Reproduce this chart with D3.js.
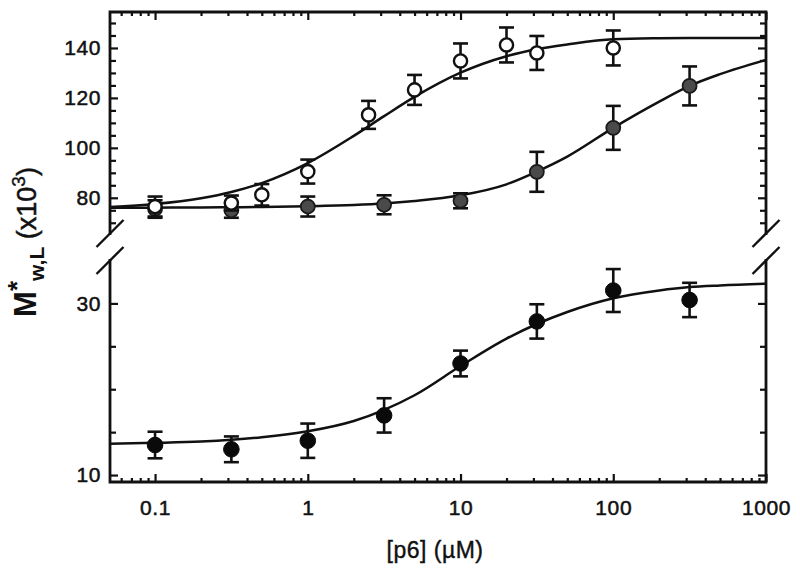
<!DOCTYPE html>
<html>
<head>
<meta charset="utf-8">
<script src="https://cdn.jsdelivr.net/npm/d3@7"></script>
<style>
  html, body { margin: 0; padding: 0; background: #fff; }
  svg { display: block; }
  text { font-family: "Liberation Sans", Arial, sans-serif; fill: #111; }
</style>
</head>
<body>
<svg id="chart" width="800" height="578"></svg>
<script>
// ---------- data ----------
const xTickValues = [0.1, 1, 10, 100, 1000];
const xTickLabels = ["0.1", "1", "10", "100", "1000"];
const upperTickValues = [80, 100, 120, 140];
const upperMinorTicks = [70, 75, 85, 90, 95, 105, 110, 115, 125, 130, 135, 145, 150];
const lowerTickValues = [10, 30];
const lowerMinorTicks = [15, 20, 25];

const concOpen = [0.1, 0.316, 0.5, 1, 2.5, 5, 10, 20, 31.6, 100];
const openValues = [76.5, 77.9, 81.2, 90.5, 113.2, 123.2, 134.8, 141.2, 138, 140];
const openErrors = [4, 3, 4.3, 4.8, 5.6, 6, 7, 7, 6.8, 7];

const concGray = [0.1, 0.316, 1, 3.16, 10, 31.6, 100, 316];
const grayValues = [75.5, 75, 76.5, 77.2, 78.8, 90.4, 108, 124.8];
const grayErrors = [3.5, 3, 4, 3.8, 3, 8, 8.8, 7.8];

const concBlack = [0.1, 0.316, 1, 3.16, 10, 31.6, 100, 316];
const blackValues = [13.5, 13.0, 14.0, 16.95, 23.0, 27.9, 31.5, 30.4];
const blackErrors = [1.55, 1.5, 2, 2, 1.5, 2, 2.5, 2];

// fitted curves
const fitConc = [0.05, 0.1, 0.2, 0.316, 0.5, 1, 2, 3.16, 5, 10, 20, 31.6, 50, 100, 200, 316, 500, 1000];
const openFit = [76.3, 77.5, 79.8, 82.3, 85.9, 93.9, 104.8, 112.7, 120.4, 130.1, 136.7, 139.5, 141.4, 143.5, 143.9, 144, 144, 144];
const grayFit = [76.0, 76.05, 76.1, 76.2, 76.3, 76.6, 77.1, 77.7, 78.7, 81.0, 85.4, 90.5, 96.5, 108, 118.5, 124.8, 129.5, 135.2];
const blackFit = [13.65, 13.75, 13.9, 14.1, 14.4, 15.1, 16.3, 17.6, 19.3, 22.7, 25.9, 27.6, 29.0, 30.6, 31.5, 31.9, 32.1, 32.3];

// ---------- layout ----------
const L = 110, R = 766, T = 12, B = 482;
const upperBottom = 233.5, lowerTop = 260.5;
const svg = d3.select("#chart");

const x = d3.scaleLog().domain([0.0507, 1000]).range([L, R]);
const yU = d3.scaleLinear().domain([65.7, 154.4]).range([upperBottom, T]);
const yL = d3.scaleLinear().domain([9.19, 35]).range([B, lowerTop]);

const defs = svg.append("defs");
defs.append("clipPath").attr("id", "clipU").append("rect")
  .attr("x", L).attr("y", T).attr("width", R - L).attr("height", upperBottom - T);
defs.append("clipPath").attr("id", "clipL").append("rect")
  .attr("x", L).attr("y", lowerTop).attr("width", R - L).attr("height", B - lowerTop);

const frameW = 2.8;

// ---------- ticks ----------
const xMinor = [];
[-2, -1, 0, 1, 2].forEach(e => { for (let m = 2; m <= 9; m++) { const v = m * Math.pow(10, e); if (v >= 0.0507 && v <= 1000) xMinor.push(v); } });

const gB = svg.append("g").attr("transform", `translate(0,${B})`);
gB.call(d3.axisBottom(x).tickValues(xTickValues).tickSize(-8).tickPadding(18)
  .tickFormat((d, i) => xTickLabels[i]));
gB.append("g").call(d3.axisBottom(x).tickValues(xMinor).tickSize(-4).tickFormat(""));
const gT = svg.append("g").attr("transform", `translate(0,${T})`);
gT.call(d3.axisTop(x).tickValues(xTickValues).tickSize(-8).tickFormat(""));
gT.append("g").call(d3.axisTop(x).tickValues(xMinor).tickSize(-4).tickFormat(""));

const gLU = svg.append("g").attr("transform", `translate(${L},0)`);
gLU.call(d3.axisLeft(yU).tickValues(upperTickValues).tickSize(-8).tickPadding(9));
gLU.append("g").call(d3.axisLeft(yU).tickValues(upperMinorTicks).tickSize(-6).tickFormat(""));
const gLL = svg.append("g").attr("transform", `translate(${L},0)`);
gLL.call(d3.axisLeft(yL).tickValues(lowerTickValues).tickSize(-8).tickPadding(9));
gLL.append("g").call(d3.axisLeft(yL).tickValues(lowerMinorTicks).tickSize(-6).tickFormat(""));
const gRU = svg.append("g").attr("transform", `translate(${R},0)`);
gRU.call(d3.axisRight(yU).tickValues(upperTickValues).tickSize(-8).tickFormat(""));
gRU.append("g").call(d3.axisRight(yU).tickValues(upperMinorTicks).tickSize(-6).tickFormat(""));
const gRL = svg.append("g").attr("transform", `translate(${R},0)`);
gRL.call(d3.axisRight(yL).tickValues(lowerTickValues).tickSize(-8).tickFormat(""));
gRL.append("g").call(d3.axisRight(yL).tickValues(lowerMinorTicks).tickSize(-6).tickFormat(""));

svg.selectAll(".domain").remove();
svg.selectAll(".tick line").attr("stroke", "#111").attr("stroke-width", 2.2);
svg.selectAll(".tick text").attr("font-size", 21).attr("fill", "#111")
  .attr("stroke", "#111").attr("stroke-width", 0.5)
  .style("letter-spacing", "0.6px");

// ---------- frame ----------
const frame = svg.append("g").attr("stroke", "#111").attr("stroke-width", frameW).attr("fill", "none")
  .attr("stroke-linecap", "square");
frame.append("path").attr("d", `M${L},${upperBottom}V${T}H${R}V${upperBottom}`);
frame.append("path").attr("d", `M${L},${lowerTop}V${B}H${R}V${lowerTop}`);
const brk = svg.append("g").attr("stroke", "#111").attr("stroke-width", 2.4).attr("fill", "none");
[L, R].forEach(cx => {
  [upperBottom, lowerTop].forEach(cy => {
    brk.append("line").attr("x1", cx - 13.5).attr("y1", cy + 13.5).attr("x2", cx + 13.5).attr("y2", cy - 13.5);
  });
});

// ---------- curves ----------
const lineU = d3.line().x((d, i) => x(fitConc[i])).y(d => yU(d)).curve(d3.curveMonotoneX);
const lineL = d3.line().x((d, i) => x(fitConc[i])).y(d => yL(d)).curve(d3.curveMonotoneX);
const curvesU = svg.append("g").attr("clip-path", "url(#clipU)");
curvesU.append("path").attr("d", lineU(grayFit)).attr("fill", "none").attr("stroke", "#111").attr("stroke-width", 2.5);
curvesU.append("path").attr("d", lineU(openFit)).attr("fill", "none").attr("stroke", "#111").attr("stroke-width", 2.5);
svg.append("g").attr("clip-path", "url(#clipL)")
  .append("path").attr("d", lineL(blackFit)).attr("fill", "none").attr("stroke", "#111").attr("stroke-width", 2.5);

// ---------- points with error bars ----------
function drawSeries(conc, vals, errs, yScale, style) {
  const g = svg.append("g");
  const cap = 7.5;
  conc.forEach((c, i) => {
    const cx = x(c), y0 = yScale(vals[i] - errs[i]), y1 = yScale(vals[i] + errs[i]);
    const eg = g.append("g").attr("stroke", "#111").attr("stroke-width", 2.6);
    eg.append("line").attr("x1", cx).attr("x2", cx).attr("y1", y0).attr("y2", y1);
    eg.append("line").attr("x1", cx - cap).attr("x2", cx + cap).attr("y1", y0).attr("y2", y0);
    eg.append("line").attr("x1", cx - cap).attr("x2", cx + cap).attr("y1", y1).attr("y2", y1);
  });
  g.selectAll("circle").data(vals).join("circle")
    .attr("cx", (d, i) => x(conc[i])).attr("cy", d => yScale(d))
    .attr("r", style.r).attr("fill", style.fill).attr("stroke", style.stroke).attr("stroke-width", style.sw);
}
drawSeries(concGray, grayValues, grayErrors, yU, { r: 7, fill: "#4a4a4a", stroke: "#1a1a1a", sw: 1.8 });
drawSeries(concOpen, openValues, openErrors, yU, { r: 6.6, fill: "#fff", stroke: "#111", sw: 2.4 });
drawSeries(concBlack, blackValues, blackErrors, yL, { r: 7.8, fill: "#0a0a0a", stroke: "#0a0a0a", sw: 1 });

// ---------- axis titles ----------
svg.append("text").attr("x", 435).attr("y", 558).attr("text-anchor", "middle")
  .attr("font-size", 23).attr("stroke", "#111").attr("stroke-width", 0.4)
  .style("letter-spacing", "0.5px").text("[p6] (\u00b5M)");

const yt = svg.append("text").attr("transform", "translate(36,242) rotate(-90)")
  .attr("text-anchor", "middle");
yt.append("tspan").attr("font-size", 31).attr("font-weight", "bold").text("M");
yt.append("tspan").attr("font-size", 26).attr("font-weight", "bold").attr("dy", -10).text("*");
yt.append("tspan").attr("font-size", 21).attr("font-weight", "bold").attr("dy", 18).text("w,L");
yt.append("tspan").attr("font-size", 27).attr("stroke", "#111").attr("stroke-width", 0.5).attr("dy", -8).text("\u00a0(x10");
yt.append("tspan").attr("font-size", 19).attr("stroke", "#111").attr("stroke-width", 0.4).attr("dy", -11).text("3");
yt.append("tspan").attr("font-size", 27).attr("stroke", "#111").attr("stroke-width", 0.5).attr("dy", 11).text(")");
</script>
</body>
</html>
